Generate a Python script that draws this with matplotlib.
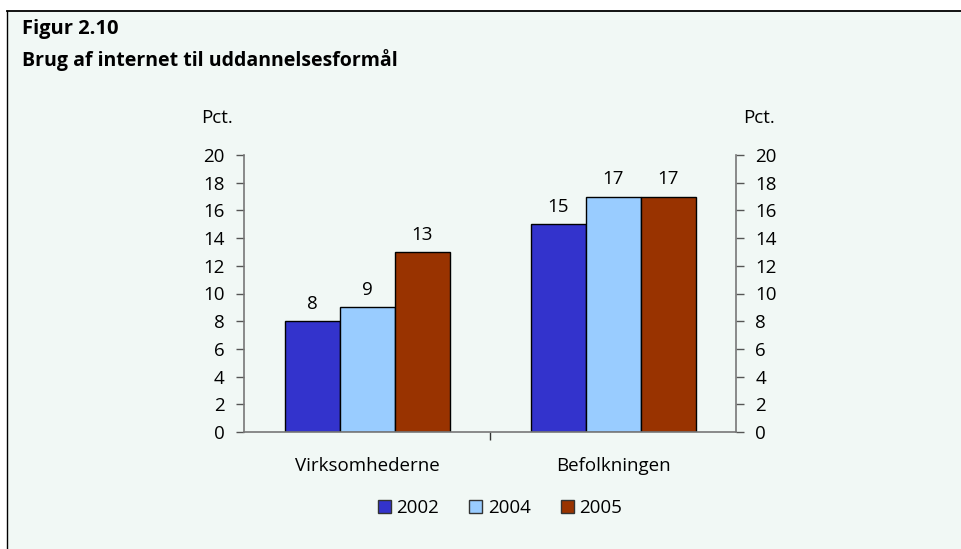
import numpy as np
import matplotlib.pyplot as plt
from matplotlib.lines import Line2D
from matplotlib.patches import Patch

# Data
categories = ["Virksomhederne", "Befolkningen"]
years = ["2002", "2004", "2005"]
values_2002 = [8, 15]
values_2004 = [9, 17]
values_2005 = [13, 17]
series = [values_2002, values_2004, values_2005]
colors = ["#3333cc", "#99ccff", "#993300"]

bg = "#f1f8f5"
fs = 13.5
plt.rcParams["font.family"] = ["Open Sans", "DejaVu Sans"]

fig = plt.figure(figsize=(9.62, 5.49), dpi=100)
fig.patch.set_facecolor("white")

# mint panel with black top/left border
panel = plt.Rectangle((7 / 962, 0), 1, 1 - 11 / 549, transform=fig.transFigure,
                      facecolor=bg, edgecolor="none", zorder=-2)
fig.patches.append(panel)
fig.add_artist(Line2D([7 / 962, 1], [1 - 11 / 549] * 2, color="black", lw=1.3,
                      transform=fig.transFigure))
fig.add_artist(Line2D([7.5 / 962] * 2, [0, 1 - 11 / 549], color="black", lw=1.0,
                      transform=fig.transFigure))

fig.text(22 / 962, 1 - 29 / 549, "Figur 2.10", fontsize=14.5, fontweight="bold",
         va="center", ha="left")
fig.text(22 / 962, 1 - 60 / 549, "Brug af internet til uddannelsesformål", fontsize=14,
         fontweight="bold", va="center", ha="left")

ax = fig.add_axes([244 / 962, 1 - 432 / 549, 492 / 962, 277 / 549])
ax.set_facecolor("none")

x = np.arange(len(categories))
w = 55 / 246
for i, (vals, col) in enumerate(zip(series, colors)):
    pos = x + (i - 1) * w
    ax.bar(pos, vals, width=w, color=col, edgecolor="black", linewidth=1.0,
           label=years[i], zorder=2)
    for p, v in zip(pos, vals):
        ax.text(p, v + 0.6, str(v), ha="center", va="bottom", fontsize=fs)

ax.set_xlim(-0.5, 1.5)
ax.set_ylim(0, 20)
ax.set_yticks(range(0, 21, 2))
ax.tick_params(axis="y", labelsize=fs, length=6, color="#555555", width=1,
               left=True, right=True, labelleft=True, labelright=True, pad=8)
ax.set_xticks([0.5])
ax.set_xticklabels([""])
ax.tick_params(axis="x", length=6, color="#333333", width=1)
for c, lab in zip(x, categories):
    ax.text(c, -1.8, lab, ha="center", va="top", fontsize=fs)

ax.spines["top"].set_visible(False)
for s in ["left", "right", "bottom"]:
    ax.spines[s].set_color("#777777")
    ax.spines[s].set_linewidth(1.2)

fig.text(217 / 962, 1 - 118 / 549, "Pct.", fontsize=fs, ha="center", va="center")
fig.text(759 / 962, 1 - 118 / 549, "Pct.", fontsize=fs, ha="center", va="center")

handles = [Patch(facecolor=c, edgecolor="#333333", label=y) for c, y in zip(colors, years)]
fig.legend(handles=handles, loc="center", bbox_to_anchor=(500 / 962, 1 - 508 / 549),
           ncol=3, frameon=False, fontsize=fs, handlelength=0.7, handleheight=0.7,
           handletextpad=0.3, columnspacing=1.6)

fig.savefig("out.png", dpi=100, facecolor=fig.get_facecolor())
